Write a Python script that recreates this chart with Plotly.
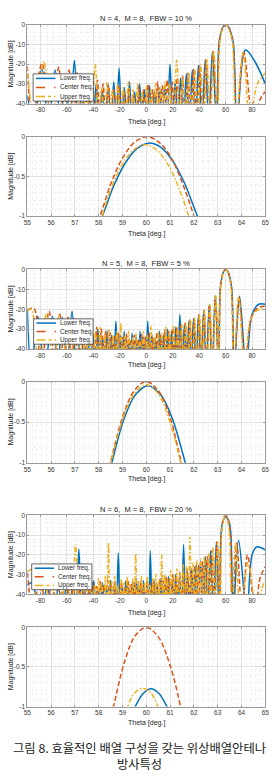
import plotly.graph_objects as go

# ---------------- data ----------------
TITLES = ["N = 4,  M = 8,  FBW = 10 %", "N = 5,  M = 8,  FBW = 5 %", "N = 6,  M = 8,  FBW = 20 %"]
SERIES_NAMES = ["Lower freq.", "Center freq.", "Upper freq."]
WIDE_XTICKS = [-80, -60, -40, -20, 0, 20, 40, 60, 80]
WIDE_YTICKS = [-40, -30, -20, -10, 0]
ZOOM_XTICKS = [55, 56, 57, 58, 59, 60, 61, 62, 63, 64, 65]
ZOOM_YTICKS = [-1, -0.5, 0]
X_LABEL = "Theta [deg.]"
Y_LABEL = "Magnitude [dB]"
CAPTION_1 = "그림 8. 효율적인 배열 구성을 갖는 위상배열안테나"
CAPTION_2 = "방사특성"
CAPTION_3 = "Fig. 8. Radiation pattern of phased array antenna with efficient array configuration"

# N = 4, FBW = 10 %  (theta [deg], magnitude [dB])
N4_LOWER = [(-90,-36),(-85,-50),(-79,-22),(-74,-50),(-69,-23),(-64.8,-50),(-61.3,-26),(-57.7,-50),(-54.4,-18),(-51.2,-50),
            (-48.3,-33),(-45.5,-50),(-42.9,-36),(-40.3,-50),(-37.9,-30),(-35.6,-50),(-33.3,-33),(-31.1,-50),(-28.9,-30),(-26.7,-50),
            (-24.6,-29),(-22.6,-50),(-20.6,-22),(-18.6,-50),(-16.6,-32),(-14.6,-50),(-12.7,-29),(-10.8,-50),(-8.8,-34),(-6.9,-50),
            (-5.0,-30),(-3.2,-50),(-1.3,-33),(0.6,-50),(2.5,-31),(4.4,-50),(6.3,-34),(8.2,-50),(10.1,-32),(12.0,-50),
            (13.9,-31),(15.9,-50),(17.9,-20),(19.9,-50),(21.9,-29),(23.9,-50),(26.0,-27),(28.1,-50),(30.3,-25),(32.5,-50),
            (34.8,-23),(37.1,-50),(39.5,-20.5),(42.0,-50),(44.6,-17.8),(47.2,-50),(50.0,-13.8),(53.1,-50),(55.0,-9.0),(56.9,-3.0),
            (58.15,-1.0),(60.1,-0.08),(62.15,-1.0),(63.5,-3.0),(65.8,-9.0),(68.7,-50),(75.0,-12.8),(82.0,-18.5),(90,-30)]
N4_CENTER = [(-90,-21),(-86,-50),(-79,-19.5),(-71.2,-50),(-66.3,-21.5),(-62.1,-50),(-58.5,-23),(-55.2,-50),(-52.2,-24.5),(-49.4,-50),
             (-46.7,-26),(-44.1,-50),(-41.7,-27),(-39.3,-50),(-37.0,-28),(-34.9,-50),(-32.7,-30),(-30.6,-50),(-28.5,-31),(-26.5,-50),
             (-24.5,-33),(-22.6,-50),(-20.7,-31),(-18.8,-50),(-16.9,-34),(-15.0,-50),(-13.1,-32),(-11.3,-50),(-9.5,-35),(-7.7,-50),
             (-5.9,-31),(-4.1,-50),(-2.3,-33),(-0.5,-50),(1.3,-30),(3.1,-50),(4.9,-33),(6.7,-50),(8.5,-29),(10.3,-50),
             (12.1,-31),(13.9,-50),(15.8,-28),(17.7,-50),(19.6,-29),(21.5,-50),(23.4,-27),(25.4,-50),(27.4,-26),(29.4,-50),
             (31.5,-24.5),(33.6,-50),(35.8,-22.7),(38.0,-50),(40.3,-20.7),(42.7,-50),(45.2,-17.8),(47.8,-50),(50.6,-13.4),(53.5,-50),
             (55.2,-9.4),(57.0,-3.0),(58.05,-1.0),(60.0,0.0),(62.0,-1.0),(63.3,-3.0),(65.6,-9.4),(68.2,-50),(73.7,-14),(81.0,-50),
             (86,-38),(90,-34)]
N4_UPPER = [(-90,-24.5),(-84,-50),(-77.6,-18.5),(-71,-50),(-66.8,-26),(-62.8,-50),(-59.3,-27),(-56.1,-50),(-53.1,-28.5),(-50.4,-50),
            (-47.8,-30),(-45.3,-50),(-43.2,-31),(-41.2,-50),(-38.6,-20),(-36.0,-50),(-33.8,-32),(-31.6,-50),(-29.6,-29),(-27.6,-50),
            (-25.6,-33),(-23.6,-50),(-21.6,-30),(-19.6,-50),(-17.6,-32),(-15.6,-50),(-13.6,-29),(-11.7,-50),(-10.0,-33),(-8.4,-50),
            (-6.6,-30),(-4.9,-50),(-3.2,-34),(-1.5,-50),(0.2,-31),(1.9,-50),(3.6,-33),(5.3,-50),(7.0,-30),(8.7,-50),
            (10.4,-32),(12.2,-50),(14.0,-29),(15.7,-50),(17.5,-30),(20.3,-50),(23.0,-18),(25.5,-50),(27.5,-26.5),(29.8,-50),
            (32.2,-24.5),(34.6,-50),(36.7,-22.5),(38.9,-50),(41.1,-20),(43.4,-50),(45.8,-17.3),(48.3,-50),(51.0,-13),(53.8,-50),
            (55.5,-9.4),(57.1,-3.0),(58.15,-1.0),(59.95,-0.1),(61.78,-1.0),(63.0,-3.0),(65.3,-9.4),(67.8,-50),(73.3,-14),(78.5,-50),
            (84,-30),(90,-24.5)]

# N = 5, FBW = 5 %
N5_LOWER = [(-90,-20.5),(-87,-50),(-82,-23.5),(-77,-50),(-71,-23.5),(-67,-50),(-63.6,-24),(-60,-50),(-56.2,-21),(-52.8,-50),
            (-49.6,-30),(-46.4,-50),(-44.3,-31),(-42.3,-50),(-40.3,-33),(-38.4,-50),(-36.6,-30),(-34.8,-50),(-33.0,-34),(-31.3,-50),
            (-29.6,-31),(-27.9,-50),(-26.2,-33),(-24.6,-50),(-23.0,-26),(-21.4,-50),(-19.8,-33),(-18.3,-50),(-16.7,-31),(-15.2,-50),
            (-13.7,-35),(-12.2,-50),(-10.7,-32),(-9.2,-50),(-7.7,-34),(-6.2,-50),(-4.7,-31),(-3.3,-50),(-1.8,-34),(-0.3,-50),
            (1.1,-26),(2.6,-50),(4.0,-32),(5.5,-50),(7.0,-35),(8.5,-50),(10.0,-31),(11.5,-50),(13.0,-33),(14.5,-50),
            (16.0,-30),(17.6,-50),(19.1,-31),(20.7,-50),(22.2,-29),(23.8,-50),(25.4,-22.6),(27.1,-50),(28.8,-28),(30.5,-50),
            (32.2,-26),(33.9,-50),(35.7,-24.6),(37.6,-50),(39.5,-22.8),(41.4,-50),(43.4,-20.6),(45.4,-50),(47.6,-17.8),(49.8,-50),
            (52.2,-13.4),(54.6,-50),(56.0,-9.4),(57.5,-3.0),(58.55,-1.0),(60.07,-0.05),(61.64,-1.0),(62.8,-3.0),(64.6,-9.4),(66.5,-50),
            (70.5,-13.5),(75.6,-50),(80,-22.5),(85,-17.5),(90,-17.5)]
N5_CENTER = [(-90,-20.5),(-85,-19.5),(-79.8,-50),(-73.5,-21),(-69.1,-50),(-65.4,-22.5),(-62.1,-50),(-59.2,-24),(-56.5,-50),(-54.0,-25),
             (-51.6,-50),(-49.4,-26),(-47.2,-50),(-45.2,-27),(-43.2,-50),(-41.2,-28),(-39.3,-50),(-37.5,-29),(-35.7,-50),(-34.0,-30),
             (-32.3,-50),(-30.6,-31),(-28.9,-50),(-27.3,-32),(-25.7,-50),(-24.1,-33),(-22.6,-50),(-21.0,-32),(-19.5,-50),(-18.0,-34),
             (-16.5,-50),(-15.0,-32.5),(-13.5,-50),(-12.1,-35),(-10.6,-50),(-9.1,-33),(-7.7,-50),(-6.2,-35),(-4.8,-50),(-3.4,-32.5),
             (-1.9,-50),(-0.5,-34),(0.9,-50),(2.4,-32),(3.8,-50),(5.2,-34),(6.7,-50),(8.1,-31.5),(9.6,-50),(11.0,-33),
             (12.5,-50),(13.9,-30.5),(15.4,-50),(16.9,-31),(18.4,-50),(19.9,-29.5),(21.5,-50),(23.0,-29),(24.6,-50),(26.2,-28),
             (27.8,-50),(29.4,-27),(31.1,-50),(32.8,-25.5),(34.5,-50),(36.2,-24.6),(38.0,-50),(39.9,-22.9),(41.8,-50),(43.7,-20.7),
             (45.7,-50),(47.8,-17.8),(50.0,-50),(52.3,-13.4),(54.7,-50),(56.1,-9.4),(57.55,-3.0),(58.48,-1.0),(60.0,0.0),(61.48,-1.0),
             (62.6,-3.0),(64.4,-9.4),(66.4,-50),(70.2,-14),(75.0,-50),(79,-25),(84,-19.5),(90,-18.5)]
N5_UPPER = [(-90,-21),(-87,-20),(-81.3,-50),(-75.5,-22),(-70.0,-50),(-66.4,-23.5),(-63.0,-50),(-60.1,-25),(-57.3,-50),(-54.9,-26.5),
            (-52.5,-50),(-50.3,-28),(-48.1,-50),(-46.1,-28),(-44.1,-50),(-42.2,-25),(-40.3,-50),(-38.5,-31),(-36.7,-50),(-35.0,-29),
            (-33.3,-50),(-31.6,-32),(-30.0,-50),(-28.4,-30),(-26.8,-50),(-25.3,-33),(-23.8,-50),(-22.2,-31),(-20.7,-50),(-19.2,-27),
            (-17.8,-50),(-16.3,-33),(-14.9,-50),(-13.4,-31),(-12.0,-50),(-10.5,-34),(-9.1,-50),(-7.7,-32),(-6.3,-50),(-4.9,-35),
            (-3.5,-50),(-2.1,-31),(-0.7,-50),(0.7,-33),(2.1,-50),(3.5,-28.4),(4.9,-50),(6.3,-33),(7.7,-50),(9.1,-31),
            (10.5,-50),(11.9,-32),(13.4,-50),(14.8,-29),(16.3,-50),(17.7,-31),(19.2,-50),(20.7,-28),(22.2,-50),(23.7,-29),
            (25.3,-50),(26.8,-27.5),(28.4,-50),(30.0,-27),(31.6,-50),(33.3,-25),(35.0,-50),(36.7,-24.5),(38.5,-50),(40.3,-22.5),
            (42.1,-50),(44.0,-20.5),(46.0,-50),(48.1,-17.6),(50.2,-50),(52.5,-13.3),(54.8,-50),(56.2,-9.4),(57.6,-3.0),(58.5,-1.0),
            (60.0,-0.04),(61.45,-1.0),(62.5,-3.0),(64.2,-9.4),(66.2,-50),(69.8,-14),(74.5,-50),(79,-25),(84,-20.5),(90,-19.5)]

# N = 6, FBW = 20 %
N6_LOWER = [(-90,-35.5),(-86.5,-34),(-80.4,-50),(-75,-37),(-70.0,-50),(-66.5,-36),(-63.3,-50),(-60.5,-35),(-57.9,-50),(-55.5,-33),
            (-53.2,-50),(-51.0,-17),(-49.0,-50),(-47.0,-34),(-45.1,-50),(-43.2,-36),(-41.4,-50),(-39.7,-33),(-38.0,-50),(-36.3,-37),
            (-34.7,-50),(-33.1,-34),(-31.5,-50),(-30.0,-36),(-28.5,-50),(-27.0,-33),(-25.5,-50),(-24.0,-35),(-22.6,-50),(-21.2,-19),
            (-19.7,-50),(-18.3,-36),(-16.9,-50),(-15.5,-33),(-14.2,-50),(-12.8,-37),(-11.5,-50),(-10.1,-34),(-8.8,-50),(-7.4,-32),
            (-6.1,-50),(-4.8,-36),(-3.4,-50),(-2.1,-33),(-0.8,-50),(0.5,-34),(1.9,-50),(3.0,-18),(4.5,-50),(5.8,-33),
            (7.2,-50),(8.5,-36),(9.9,-50),(11.2,-32),(12.6,-50),(13.9,-35),(15.3,-50),(16.7,-31),(18.1,-50),(19.5,-34),
            (20.9,-50),(22.3,-30),(23.8,-50),(25.2,-31),(26.7,-50),(28.2,-14.7),(29.7,-50),(31.2,-29),(32.8,-50),(34.4,-27),
            (36.0,-50),(37.7,-25),(39.4,-50),(41.1,-23),(42.9,-50),(44.7,-21),(46.6,-50),(48.6,-18),(50.7,-50),(53.0,-13.5),
            (55.1,-50),(56.6,-9),(57.7,-3.5),(59.53,-1.0),(60.2,-0.78),(60.87,-1.0),(62.7,-3.5),(63.9,-9),(65.8,-50),(69.8,-12.7),
            (76,-50),(80,-20),(83.4,-16),(90,-17.5)]
N6_CENTER = [(-90,-29),(-85.5,-50),(-80.5,-30),(-75.3,-50),(-71.3,-32),(-67.8,-50),(-64.8,-33),(-62.1,-50),(-59.7,-34),(-57.4,-50),
             (-55.2,-33),(-53.2,-50),(-51.3,-35),(-49.4,-50),(-47.6,-34),(-45.8,-50),(-44.1,-36),(-42.5,-50),(-40.9,-34),(-39.3,-50),
             (-37.8,-36),(-36.3,-50),(-34.8,-33.5),(-33.4,-50),(-32.0,-35),(-30.6,-50),(-29.2,-33),(-27.9,-50),(-26.5,-35),(-25.2,-50),
             (-23.9,-33.5),(-22.6,-50),(-21.3,-36),(-20.0,-50),(-18.8,-34),(-17.5,-50),(-16.3,-36),(-15.0,-50),(-13.8,-33),(-12.6,-50),
             (-11.3,-35),(-10.1,-50),(-8.9,-33.5),(-7.7,-50),(-6.5,-36),(-5.3,-50),(-4.1,-33),(-2.9,-50),(-1.7,-35),(-0.5,-50),
             (0.7,-33),(1.9,-50),(3.1,-34.5),(4.3,-50),(5.5,-32.5),(6.7,-50),(7.9,-34),(9.1,-50),(10.3,-32),(11.5,-50),
             (12.7,-33),(13.9,-50),(15.1,-31),(16.4,-50),(17.6,-32),(18.9,-50),(20.2,-30),(21.5,-50),(22.8,-30.5),(24.1,-50),
             (25.4,-28.5),(26.7,-50),(28.0,-29),(29.4,-50),(30.8,-27),(32.2,-50),(33.6,-27.5),(35.1,-50),(36.5,-25.5),(38.0,-50),
             (39.5,-25),(41.1,-50),(42.7,-23.5),(44.4,-50),(46.1,-21),(47.8,-50),(49.6,-17.8),(51.5,-50),(53.5,-13.4),(55.5,-50),
             (56.7,-9.4),(57.95,-3.0),(58.62,-1.0),(60.0,0.0),(61.44,-1.0),(62.2,-3.0),(63.6,-9.4),(65.2,-50),(68.4,-14),(72.5,-50),
             (76.5,-20),(82.5,-50),(86,-32),(90,-26)]
N6_UPPER = [(-90,-28.5),(-86.5,-27.5),(-82.3,-50),(-77.3,-30),(-72.4,-50),(-69.3,-31),(-66.3,-50),(-63.8,-30),(-61.3,-50),(-59.2,-32),
            (-56.3,-50),(-53.5,-14.7),(-50.7,-50),(-48.3,-31),(-46.5,-50),(-45.0,-33),(-43.5,-50),(-42.0,-31),(-40.5,-50),(-39.1,-35),
            (-37.7,-50),(-36.3,-32),(-35.0,-50),(-33.7,-34),(-32.4,-50),(-31.1,-31),(-29.9,-50),(-28.6,-14),(-27.4,-50),(-26.2,-33),
            (-25.0,-50),(-23.8,-31),(-22.6,-50),(-21.4,-35),(-20.3,-50),(-19.1,-32),(-18.0,-50),(-16.8,-34),(-15.7,-50),(-14.6,-31),
            (-13.5,-50),(-12.4,-35),(-11.3,-50),(-10.2,-32),(-9.1,-50),(-8.0,-19.5),(-6.9,-50),(-5.8,-33),(-4.7,-50),(-3.6,-31),
            (-2.5,-50),(-1.4,-34),(-0.3,-50),(0.7,-31),(1.8,-50),(2.9,-35),(4.0,-50),(5.1,-32),(6.2,-50),(7.3,-30),
            (8.4,-50),(9.5,-33),(10.6,-50),(11.7,-20),(12.8,-50),(13.9,-30),(15.0,-50),(16.1,-32),(17.3,-50),(18.4,-28),
            (19.6,-50),(20.7,-30),(21.9,-50),(23.1,-27),(24.3,-50),(25.5,-29),(26.7,-50),(27.9,-25),(29.1,-50),(30.4,-26),
            (31.7,-50),(33.0,-11),(34.2,-50),(35.5,-24),(36.9,-50),(38.3,-23),(39.7,-50),(41.1,-22),(42.6,-50),(44.1,-20.5),
            (45.6,-50),(47.2,-19),(48.8,-50),(50.5,-16.5),(52.2,-50),(54.0,-13.5),(55.9,-50),(57.0,-9),(57.9,-3.5),(59.2,-1.0),
            (59.85,-0.77),(60.5,-1.0),(61.8,-3.5),(62.8,-9),(64.7,-50),(67.5,-14),(71,-50),(77,-24),(83.5,-50),(87,-38),(90,-33)]

# main-beam close-ups (55..65 deg, -1..0 dB)
Z4_LOWER = [(57.9,-1.12),(58.15,-1.0),(58.6,-0.64),(59.1,-0.34),(59.6,-0.15),(60.1,-0.08),(60.6,-0.13),(61.1,-0.3),(61.6,-0.58),(62.15,-1.0),(62.4,-1.15)]
Z4_CENTER = [(57.8,-1.15),(58.05,-1.0),(58.5,-0.6),(59.0,-0.27),(59.5,-0.07),(60.03,0.0),(60.5,-0.06),(61.0,-0.24),(61.5,-0.57),(62.0,-1.0),(62.2,-1.2)]
Z4_UPPER = [(57.9,-1.25),(58.15,-1.0),(58.45,-0.71),(58.95,-0.37),(59.45,-0.17),(59.95,-0.1),(60.45,-0.17),(60.95,-0.37),(61.45,-0.71),(61.78,-1.0),(62.0,-1.22)]
Z5_LOWER = [(58.35,-1.2),(58.55,-1.0),(59.05,-0.47),(59.55,-0.16),(60.07,-0.05),(60.6,-0.16),(61.1,-0.46),(61.64,-1.0),(61.8,-1.15)]
Z5_CENTER = [(58.3,-1.14),(58.48,-1.0),(59.0,-0.44),(59.5,-0.11),(60.0,0.0),(60.5,-0.11),(61.0,-0.44),(61.48,-1.0),(61.7,-1.2)]
Z5_UPPER = [(58.3,-1.2),(58.5,-1.0),(59.0,-0.47),(59.5,-0.15),(60.0,-0.04),(60.5,-0.15),(61.0,-0.5),(61.45,-1.0),(61.6,-1.16)]
Z6_LOWER = [(59.4,-1.05),(59.53,-1.0),(59.85,-0.84),(60.2,-0.775),(60.55,-0.84),(60.87,-1.0),(61.0,-1.06)]
Z6_CENTER = [(58.45,-1.2),(58.62,-1.0),(59.1,-0.42),(59.55,-0.1),(60.0,0.0),(60.5,-0.12),(61.0,-0.48),(61.44,-1.0),(61.6,-1.25)]
Z6_UPPER = [(59.05,-1.06),(59.2,-1.0),(59.5,-0.83),(59.85,-0.77),(60.2,-0.83),(60.5,-1.0),(60.65,-1.06)]

# ---------------- layout / styling ----------------
W, H = 279, 778
FONT = "Liberation Sans, Arial, sans-serif"
KFONT = "Noto Sans CJK KR, sans-serif"
COLORS = ["#0072BD", "#D95319", "#EDB120"]
DASHES = ["solid", "5px,2.5px", "5px,2px,1.5px,2px"]
AX_L, AX_R = 24, 269  # pixel x of plot box

# (top px, bottom px, kind, curves, title, title y, x-title y, legend box px)
PANELS = [
    (21, 100.5, "wide", (N4_LOWER, N4_CENTER, N4_UPPER), TITLES[0], 14.7, 119.5, (30, 70.5, 92, 98)),
    (134, 214, "zoom", (Z4_LOWER, Z4_CENTER, Z4_UPPER), None, None, 231.7, None),
    (267.7, 348.3, "wide", (N5_LOWER, N5_CENTER, N5_UPPER), TITLES[1], 261.5, 364, (30.5, 317.7, 91.7, 343.3)),
    (381, 463, "zoom", (Z5_LOWER, Z5_CENTER, Z5_UPPER), None, None, 479, None),
    (516, 595.7, "wide", (N6_LOWER, N6_CENTER, N6_UPPER), TITLES[2], 510, 614.5, (28.5, 565, 90.5, 591)),
    (629, 709, "zoom", (Z6_LOWER, Z6_CENTER, Z6_UPPER), None, None, 726, None),
]

def fx(p):
    return p / W

def fy(p):
    return 1 - p / H

def fmt(v):
    return "%g" % v

fig = go.Figure()
annotations = []
shapes = []
layout_axes = {}

for i, (top, bot, kind, curves, title, ty, xty, leg) in enumerate(PANELS, start=1):
    xa = "x" if i == 1 else "x%d" % i
    ya = "y" if i == 1 else "y%d" % i
    for k, curve in enumerate(curves):
        th = [p[0] for p in curve]
        mg = [p[1] for p in curve]
        fig.add_trace(go.Scatter(
            x=th, y=mg, mode="lines", name=SERIES_NAMES[k], showlegend=False,
            line=dict(color=COLORS[k], width=1.5, dash=DASHES[k], shape="spline", smoothing=1.0),
            xaxis=xa, yaxis=ya, hoverinfo="skip"))

    common = dict(showline=True, mirror="ticks", linecolor="#9a9a9a", linewidth=0.8,
                  ticks="inside", ticklen=2, tickwidth=0.6, tickcolor="#9a9a9a",
                  showgrid=True, gridcolor="#e2e2e2", gridwidth=0.6, zeroline=False,
                  tickfont=dict(family=FONT, size=6.5, color="#3a3a3a"), fixedrange=True)
    if kind == "wide":
        xt, yt = WIDE_XTICKS, WIDE_YTICKS
        xr, yr = [-90, 90], [-40, 0]
        xminor, yminor = 5, 2
    else:
        xt, yt = ZOOM_XTICKS, ZOOM_YTICKS
        xr, yr = [55, 65], [-1, 0]
        xminor, yminor = 0.2, 0.1
    layout_axes["xaxis" if i == 1 else "xaxis%d" % i] = dict(
        common, domain=[fx(AX_L), fx(AX_R)], range=xr, anchor=ya,
        tickmode="array", tickvals=xt, ticktext=[fmt(v) for v in xt],
        minor=dict(dtick=xminor, showgrid=True, gridcolor="#f1f1f1", gridwidth=0.5, griddash="dot", ticks=""))
    layout_axes["yaxis" if i == 1 else "yaxis%d" % i] = dict(
        common, domain=[fy(bot), fy(top)], range=yr, anchor=xa,
        tickmode="array", tickvals=yt, ticktext=[fmt(v) for v in yt],
        minor=dict(dtick=yminor, showgrid=True, gridcolor="#f1f1f1", gridwidth=0.5, griddash="dot", ticks=""))

    cx = fx((AX_L + AX_R) / 2)
    if title:
        annotations.append(dict(text=title, x=cx, y=fy(ty), xref="paper", yref="paper", showarrow=False,
                                xanchor="center", yanchor="middle", font=dict(family=FONT, size=7.5, color="#1a1a1a")))
    annotations.append(dict(text=X_LABEL, x=cx, y=fy(xty), xref="paper", yref="paper", showarrow=False,
                            xanchor="center", yanchor="middle", font=dict(family=FONT, size=7, color="#262626")))
    annotations.append(dict(text=Y_LABEL, x=fx(7.5), y=fy((top + bot) / 2), xref="paper", yref="paper", showarrow=False,
                            textangle=-90, xanchor="center", yanchor="middle", font=dict(family=FONT, size=7, color="#262626")))
    if leg:
        x0, y0, x1, y1 = leg
        shapes.append(dict(type="rect", xref="paper", yref="paper", x0=fx(x0), x1=fx(x1), y0=fy(y1), y1=fy(y0),
                           fillcolor="white", line=dict(color="#262626", width=0.7), layer="above"))
        for k in range(3):
            yy = y0 + (y1 - y0) * (k + 0.5) / 3
            shapes.append(dict(type="line", xref="paper", yref="paper", x0=fx(x0 + 3), x1=fx(x0 + 23),
                               y0=fy(yy), y1=fy(yy), layer="above",
                               line=dict(color=COLORS[k], width=1.5, dash=["solid", "dash", "dashdot"][k])))
            annotations.append(dict(text=SERIES_NAMES[k], x=fx(x0 + 25.5), y=fy(yy), xref="paper", yref="paper",
                                    showarrow=False, xanchor="left", yanchor="middle",
                                    font=dict(family=FONT, size=6.3, color="#262626")))

# caption (two lines in one text block) and the cut-off English caption below it
annotations.append(dict(text=CAPTION_1 + "<br>" + CAPTION_2, x=fx(140), y=fy(759), xref="paper", yref="paper",
                        showarrow=False, xanchor="center", yanchor="middle", align="center",
                        font=dict(family=KFONT, size=12.3, color="#1a1a1a")))
annotations.append(dict(text=CAPTION_3, x=fx(140), y=fy(787.5), xref="paper", yref="paper", showarrow=False,
                        xanchor="center", yanchor="middle", font=dict(family=FONT, size=12, color="#1a1a1a")))

fig.update_layout(
    width=W, height=H, margin=dict(l=0, r=0, t=0, b=0),
    paper_bgcolor="white", plot_bgcolor="white", showlegend=False,
    annotations=annotations, shapes=shapes, **layout_axes)

fig.write_html("out.html", config={"displayModeBar": False})
